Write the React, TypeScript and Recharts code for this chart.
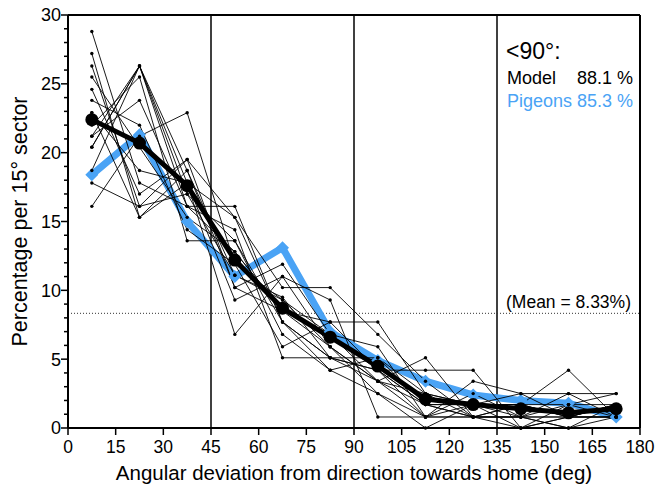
import React from "react";
import {
  LineChart,
  Line,
  XAxis,
  YAxis,
  ReferenceLine,
  Customized,
} from "recharts";

if (typeof document !== "undefined") {
  document.body.style.margin = "0";
}

const FONT = "'Liberation Sans', Arial, Helvetica, sans-serif";
const BLUE = "#4AA3F5";

const sectors = [7.5, 22.5, 37.5, 52.5, 67.5, 82.5, 97.5, 112.5, 127.5, 142.5, 157.5, 172.5];
const modelMean = [22.4, 20.7, 17.6, 12.2, 8.7, 6.6, 4.5, 2.1, 1.7, 1.4, 1.1, 1.4];
const pigeons = [18.4, 21.3, 15.0, 11.0, 13.1, 7.0, 4.9, 3.4, 2.4, 2.0, 1.8, 0.8];

const run1 = [28.8, 17.8, 16.1, 12.8, 8.5, 5.9, 3.4, 1.7, 1.7, 0.8, 0.8, 1.7];
const run2 = [27.2, 15.3, 18.7, 11.1, 9.3, 6.8, 4.2, 1.7, 0.8, 1.7, 0.8, 0.8];
const run3 = [26.3, 16.1, 17.0, 13.6, 7.7, 5.1, 5.1, 2.5, 1.7, 1.7, 0.8, 1.7];
const run4 = [25.5, 20.4, 15.3, 12.8, 8.5, 6.8, 3.4, 2.5, 0.8, 0.8, 1.7, 0.8];
const run5 = [24.6, 17.0, 19.5, 10.2, 8.5, 7.7, 4.2, 1.7, 1.7, 1.7, 0.8, 1.7];
const run6 = [23.8, 22.0, 14.4, 11.9, 9.3, 5.9, 2.5, 0.8, 2.5, 0.8, 2.5, 0.8];
const run7 = [22.9, 18.7, 17.8, 15.3, 7.7, 5.1, 4.2, 0.8, 1.7, 2.5, 0.8, 1.7];
const run8 = [22.0, 25.5, 13.6, 13.6, 6.8, 4.2, 5.1, 1.7, 0.8, 1.7, 1.7, 1.7];
const run9 = [21.2, 26.3, 17.8, 9.3, 11.0, 5.9, 3.4, 0.8, 0.8, 0.8, 0.0, 0.8];
const run10 = [21.2, 23.8, 16.1, 16.1, 7.7, 4.2, 2.5, 0.0, 1.7, 1.7, 4.2, 0.8];
const run11 = [20.4, 26.3, 18.7, 10.2, 11.9, 6.8, 5.9, 0.8, 0.8, 0.0, 0.8, 0.8];
const run12 = [20.4, 26.3, 17.0, 11.1, 9.5, 5.1, 3.4, 5.1, 0.8, 0.8, 0.0, 1.7];
const run13 = [18.7, 26.3, 16.1, 14.4, 5.1, 5.1, 4.2, 4.2, 4.2, 0.0, 1.7, 2.5];
const run14 = [17.8, 16.1, 19.5, 15.3, 10.2, 10.2, 6.8, 3.4, 0.8, 0.8, 0.8, 0.8];
const run15 = [16.1, 21.2, 22.9, 11.9, 5.9, 7.7, 7.7, 2.5, 1.7, 0.0, 0.8, 0.8];
const run16 = [22.9, 15.3, 17.8, 6.8, 11.0, 9.3, 0.8, 0.8, 3.4, 2.5, 2.5, 2.5];

const runs = [run1, run2, run3, run4, run5, run6, run7, run8, run9, run10, run11, run12, run13, run14, run15, run16];

const xTicks = [0, 15, 30, 45, 60, 75, 90, 105, 120, 135, 150, 165, 180];
const yTicks = Array.from({ length: 31 }, (_, i) => i);
const sectorLines = [45, 90, 135];
const meanLevel = 8.33;

const data = sectors.map((x, i) => {
  const row: Record<string, number> = { x, mean: modelMean[i], pigeons: pigeons[i] };
  runs.forEach((r, k) => {
    row["r" + k] = r[i];
  });
  return row;
});

const YTick = (props: any) => {
  const { x, y, payload } = props;
  const v = payload.value;
  const major = v % 5 === 0;
  return (
    <g>
      <line x1={x - (major ? 7 : 4)} x2={x} y1={y} y2={y} stroke="#000" strokeWidth={1.5} />
      {major && (
        <text x={x - 7} y={y} dy="0.36em" textAnchor="end" fontSize={18} fontFamily={FONT} fill="#000">
          {v}
        </text>
      )}
    </g>
  );
};

const XTick = (props: any) => {
  const { x, y, payload } = props;
  return (
    <g>
      <line x1={x} x2={x} y1={y} y2={y + 7} stroke="#000" strokeWidth={1.5} />
      <text x={x} y={y + 25} textAnchor="middle" fontSize={17.5} fontFamily={FONT} fill="#000">
        {payload.value}
      </text>
    </g>
  );
};

const SmallDot = (props: any) => {
  const { cx, cy } = props;
  if (cx == null || cy == null) return null;
  return <circle cx={cx} cy={cy} r={1.7} fill="#000" />;
};

const Diamond = (props: any) => {
  const { cx, cy } = props;
  if (cx == null || cy == null) return null;
  const s = 6.5;
  return (
    <polygon
      points={`${cx},${cy - s} ${cx + s},${cy} ${cx},${cy + s} ${cx - s},${cy}`}
      fill={BLUE}
      stroke="none"
    />
  );
};

const Annotations = () => (
  <g fontFamily={FONT}>
    <text x={506} y={59} fontSize={23} fill="#000">{"<90°:"}</text>
    <text x={507} y={84} fontSize={18} fill="#000">Model</text>
    <text x={633} y={84} fontSize={18} fill="#000" textAnchor="end">88.1 %</text>
    <text x={507} y={107} fontSize={18} fill={BLUE}>Pigeons 85.3 %</text>
  </g>
);

export default function App() {
  return (
    <div style={{ width: 656, height: 493, background: "#fff" }}>
      <LineChart
        width={656}
        height={493}
        data={data}
        margin={{ top: 15, right: 16, bottom: 0, left: 0 }}
      >
        <XAxis
          dataKey="x"
          type="number"
          domain={[0, 180]}
          ticks={xTicks}
          interval={0}
          height={65}
          axisLine={{ stroke: "#000", strokeWidth: 2 }}
          tickLine={false}
          tickSize={0}
          tickMargin={0}
          tick={<XTick />}
          label={{
            value: "Angular deviation from direction towards home (deg)",
            position: "insideBottom",
            offset: 13,
            style: { fontSize: 20.5, fontFamily: FONT, fill: "#000" },
          }}
        />
        <YAxis
          type="number"
          domain={[0, 30]}
          ticks={yTicks}
          interval={0}
          width={68}
          axisLine={{ stroke: "#000", strokeWidth: 2 }}
          tickLine={false}
          tickSize={0}
          tickMargin={0}
          tick={<YTick />}
          label={{
            value: "Percentage per 15° sector",
            angle: -90,
            position: "insideLeft",
            offset: 19,
            style: { fontSize: 21.5, fontFamily: FONT, fill: "#000", textAnchor: "middle" },
          }}
        />
        <ReferenceLine y={30} stroke="#000" strokeWidth={2} />
        <ReferenceLine x={180} stroke="#000" strokeWidth={2} />
        {sectorLines.map((v) => (
          <ReferenceLine key={v} x={v} stroke="#000" strokeWidth={1.5} />
        ))}
        <ReferenceLine
          y={meanLevel}
          stroke="#333"
          strokeWidth={1}
          strokeDasharray="1 2"
          label={(p: any) => (
            <text
              x={p.viewBox.x + p.viewBox.width - 9}
              y={p.viewBox.y - 5}
              textAnchor="end"
              fontSize={17.5}
              fontFamily={FONT}
              fill="#000"
            >
              (Mean = 8.33%)
            </text>
          )}
        />
        <Line
          dataKey="pigeons"
          stroke={BLUE}
          strokeWidth={7}
          strokeLinejoin="miter"
          dot={<Diamond />}
          activeDot={false}
          isAnimationActive={false}
        />
        {runs.map((_, k) => (
          <Line
            key={k}
            dataKey={"r" + k}
            stroke="#000"
            strokeWidth={0.9}
            dot={<SmallDot />}
            activeDot={false}
            isAnimationActive={false}
          />
        ))}
        <Line
          dataKey="mean"
          stroke="#000"
          strokeWidth={5}
          dot={{ r: 6.5, fill: "#000", stroke: "#000", strokeWidth: 0 }}
          activeDot={false}
          isAnimationActive={false}
        />
        <Customized component={Annotations} />
      </LineChart>
    </div>
  );
}
